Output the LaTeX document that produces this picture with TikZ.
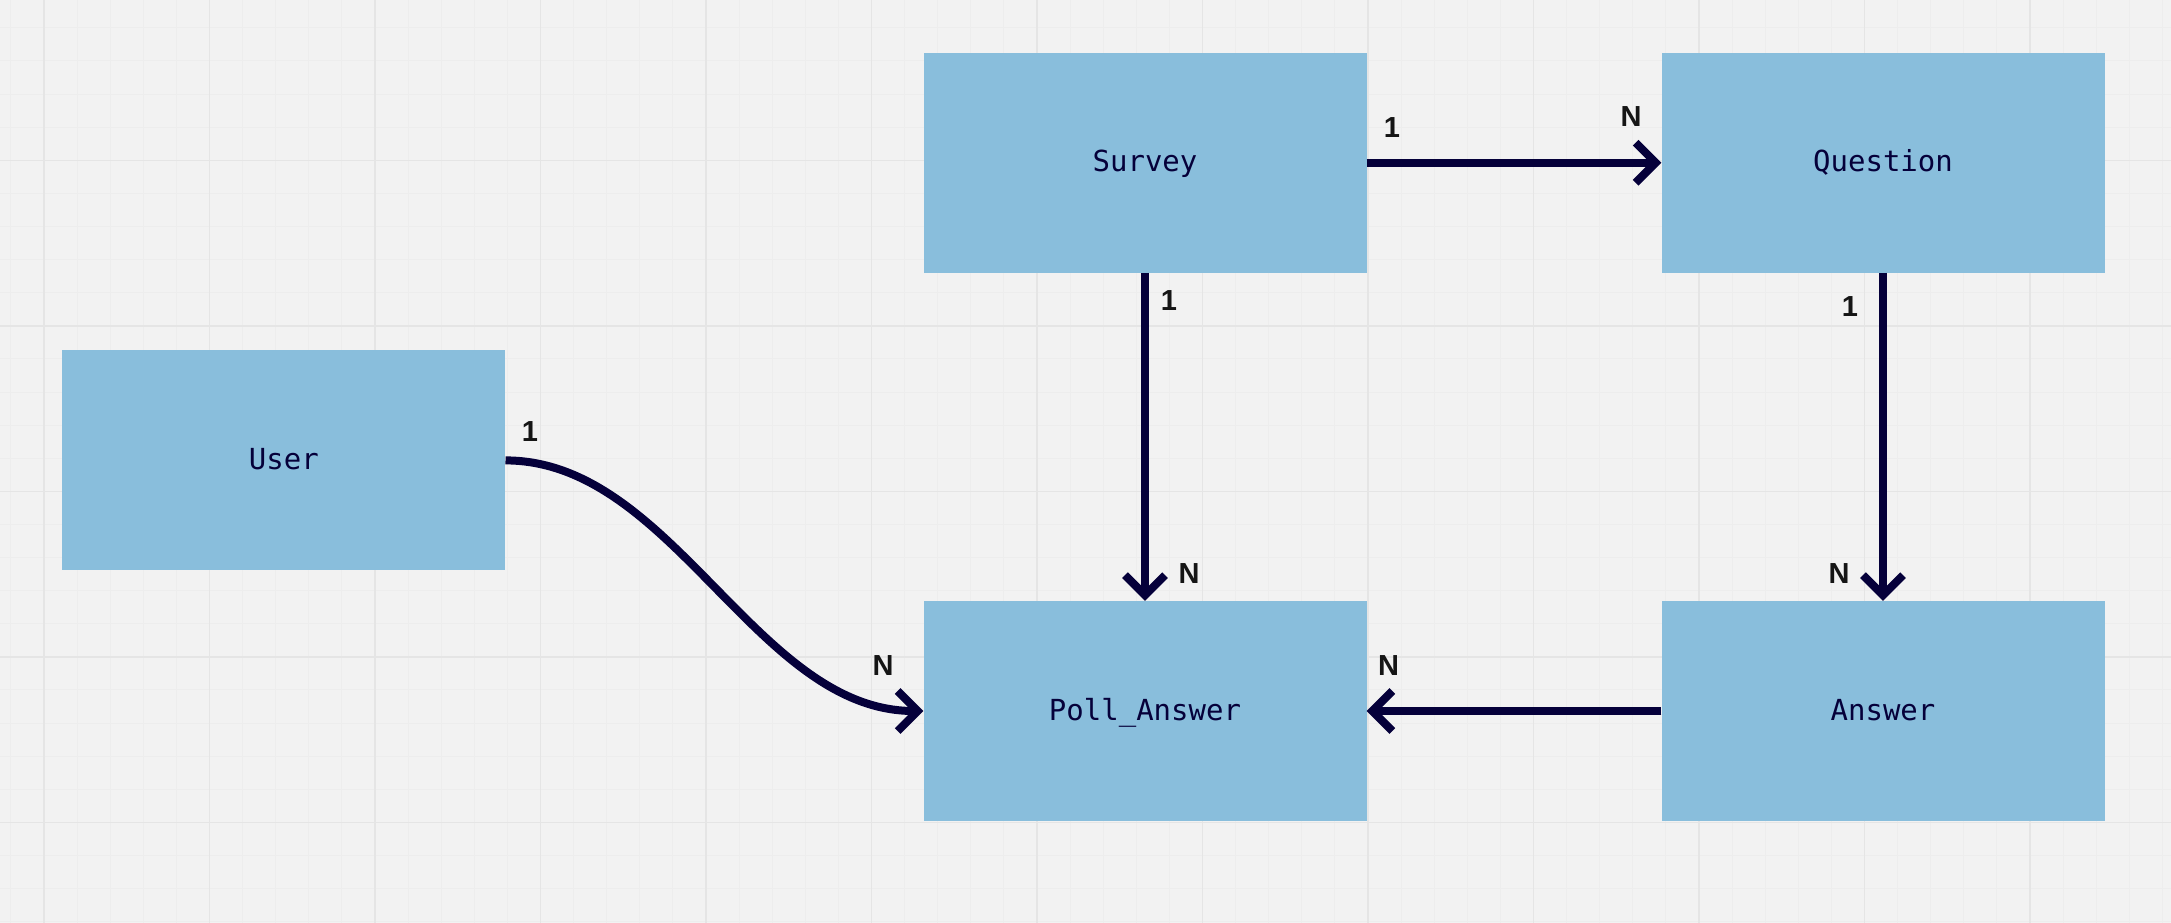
\documentclass[tikz,border=0pt]{standalone}
\usepackage{fontspec}
\setmonofont{DejaVu Sans Mono}
\newfontfamily\labelfont{Liberation Sans}
\usetikzlibrary{arrows.meta}
\definecolor{bgc}{HTML}{F2F2F2}
\definecolor{gridminor}{HTML}{EDEDED}
\definecolor{gridmajor}{HTML}{E5E5E5}
\definecolor{boxc}{HTML}{89BEDC}
\definecolor{inkc}{HTML}{05003A}
\definecolor{labc}{HTML}{151515}
\tikzset{
  entity/.style={rectangle, fill=boxc, draw=none, inner sep=0pt,
    minimum width=443pt, minimum height=220pt, text height=25pt, text depth=7pt,
    font=\fontsize{29}{30}\selectfont\ttfamily, text=inkc},
  rel/.style={draw=inkc, line width=8pt,
    -{Straight Barb[length=20pt,width=40pt,sharp]}},
  card/.style={font=\fontsize{29}{30}\selectfont\labelfont\bfseries, text=labc, inner sep=0pt}
}
\begin{document}
\begin{tikzpicture}[x=1pt,y=-1pt]
\useasboundingbox (0,0) rectangle (2171,923);
\fill[bgc] (0,0) rectangle (2171,923);
% minor grid
\foreach \i in {0,...,65} {\draw[gridminor, line width=1pt] (10.9+33.1*\i,0) -- (10.9+33.1*\i,923);}
\foreach \i in {0,...,27} {\draw[gridminor, line width=1pt] (0,27.9+33.1*\i) -- (2171,27.9+33.1*\i);}
% major grid
\foreach \i in {0,...,12} {\draw[gridmajor, line width=1.5pt] (44+165.5*\i,0) -- (44+165.5*\i,923);}
\foreach \i in {0,...,4} {\draw[gridmajor, line width=1.5pt] (0,160.3+165.5*\i) -- (2171,160.3+165.5*\i);}

% entities
\node[entity] (user) at (283.8,460.4) {User};
\node[entity] (survey) at (1145,162.7) {Survey};
\node[entity] (question) at (1883,162.7) {Question};
\node[entity] (poll) at (1145,711) {Poll\_Answer};
\node[entity] (answer) at (1883,711) {Answer};

% relations
\draw[rel] (survey.east) -- (question.west);
\draw[rel] (survey.south) -- (poll.north);
\draw[rel] (question.south) -- (answer.north);
\draw[rel] (answer.west) -- (poll.east);
\draw[rel] (user.east) .. controls +(167,0) and +(-167,0) .. (poll.west);

% cardinalities
\node[card] (c1) at (1392,128) {1};
\node[card] (c2) at (1631,117) {N};
\node[card] (c3) at (1169,301) {1};
\node[card] (c4) at (1189,574) {N};
\node[card] (c5) at (1850,307) {1};
\node[card] (c6) at (1839,574) {N};
\node[card] (c7) at (1388.5,666) {N};
\node[card] (c8) at (530,432) {1};
\node[card] (c9) at (883,666) {N};
\end{tikzpicture}
\end{document}
